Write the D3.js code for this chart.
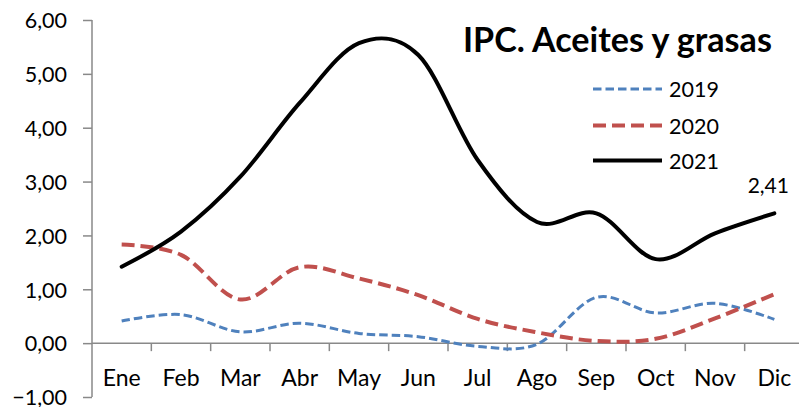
<!DOCTYPE html>
<html>
<head>
<meta charset="utf-8">
<script src="https://cdn.jsdelivr.net/npm/d3@7"></script>
<style>
  html, body { margin: 0; padding: 0; background: #fff; }
  svg { display: block; }
  text { font-family: Lato, "Open Sans", sans-serif; fill: #000; }
</style>
</head>
<body>
<svg id="chart" width="799" height="407"></svg>
<script>
const months = ["Ene","Feb","Mar","Abr","May","Jun","Jul","Ago","Sep","Oct","Nov","Dic"];
const v2019 = [0.41, 0.53, 0.21, 0.37, 0.18, 0.12, -0.06, -0.02, 0.85, 0.56, 0.74, 0.44];
const v2020 = [1.83, 1.64, 0.81, 1.41, 1.20, 0.89, 0.45, 0.20, 0.04, 0.08, 0.46, 0.91];
const v2021 = [1.42, 2.07, 3.09, 4.46, 5.57, 5.35, 3.40, 2.25, 2.41, 1.56, 2.04, 2.41];
const yTicks = [-1, 0, 1, 2, 3, 4, 5, 6];
const title = "IPC. Aceites y grasas";
const lastLabel = "2,41";

const series = [
  { name: "2019", values: v2019, color: "#4F81BD", width: 3, dash: "8.5,4" },
  { name: "2020", values: v2020, color: "#C0504D", width: 4, dash: "13,6" },
  { name: "2021", values: v2021, color: "#000000", width: 4, dash: null }
];

const svg = d3.select("#chart");
const pLeft = 92, pRight = 804, pTop = 20, pBottom = 397;

const x = d3.scaleBand().domain(months).range([pLeft, pRight]).paddingInner(0).paddingOuter(0);
const y = d3.scaleLinear().domain([-1, 6]).range([pBottom, pTop]);
const fmt = v => d3.format(".2f")(v).replace(".", ",");
const axisColor = "#898989";

// Y axis
const yAxis = svg.append("g").attr("transform", `translate(${pLeft},0)`)
  .call(d3.axisLeft(y).tickValues(yTicks).tickSize(9).tickPadding(16).tickFormat(fmt));
yAxis.select(".domain").attr("stroke", axisColor).attr("stroke-width", 1.5).attr("d", `M0,${pTop}V${pBottom}`);
yAxis.selectAll(".tick line").attr("stroke", axisColor).attr("stroke-width", 1.5);
yAxis.selectAll(".tick text").attr("font-size", 21.5).attr("dy", "0.36em").attr("fill", "#000")
  .attr("font-family", "Lato, sans-serif");

// X axis at zero
const xAxisG = svg.append("g").attr("transform", `translate(0,${y(0)})`);
xAxisG.append("line").attr("x1", pLeft).attr("x2", pRight).attr("y1", 0).attr("y2", 0)
  .attr("stroke", axisColor).attr("stroke-width", 1.5);
xAxisG.selectAll(".xt").data(months.slice(1)).enter().append("line")
  .attr("x1", d => x(d)).attr("x2", d => x(d)).attr("y1", 0).attr("y2", 8)
  .attr("stroke", axisColor).attr("stroke-width", 1.5);
svg.selectAll(".xl").data(months).enter().append("text")
  .attr("x", d => x(d) + x.bandwidth() / 2).attr("y", 386)
  .attr("text-anchor", "middle").attr("font-size", 23).text(d => d);

// Lines
const line = d3.line()
  .x((d, i) => x(months[i]) + x.bandwidth() / 2)
  .y(d => y(d))
  .curve(d3.curveCatmullRom.alpha(0));

series.forEach(s => {
  svg.append("path").datum(s.values)
    .attr("d", line).attr("fill", "none")
    .attr("stroke", s.color).attr("stroke-width", s.width)
    .attr("stroke-dasharray", s.dash)
    .attr("stroke-linecap", s.dash ? "butt" : "round")
    .attr("stroke-linejoin", "round");
});

// Data label for last 2021 value
svg.append("text")
  .attr("x", x("Dic") + x.bandwidth() / 2 - 6)
  .attr("y", y(v2021[11]) - 20)
  .attr("text-anchor", "middle").attr("font-size", 21).text(lastLabel);

// Legend
const lg = svg.append("g");
series.forEach((s, i) => {
  const ly = [89, 125.5, 160.5][i];
  lg.append("line").attr("x1", 593).attr("x2", 662).attr("y1", ly).attr("y2", ly)
    .attr("stroke", s.color).attr("stroke-width", s.width)
    .attr("stroke-dasharray", s.dash);
  lg.append("text").attr("x", 669).attr("y", ly + 8).attr("font-size", 21.5).text(s.name);
});

// Title
const t = svg.append("text").attr("x", 463).attr("y", 52)
  .attr("font-size", 31).attr("font-weight", "bold").text(title);
const w = t.node().getComputedTextLength();
t.attr("font-size", 31 * 309 / w);
</script>
</body>
</html>
